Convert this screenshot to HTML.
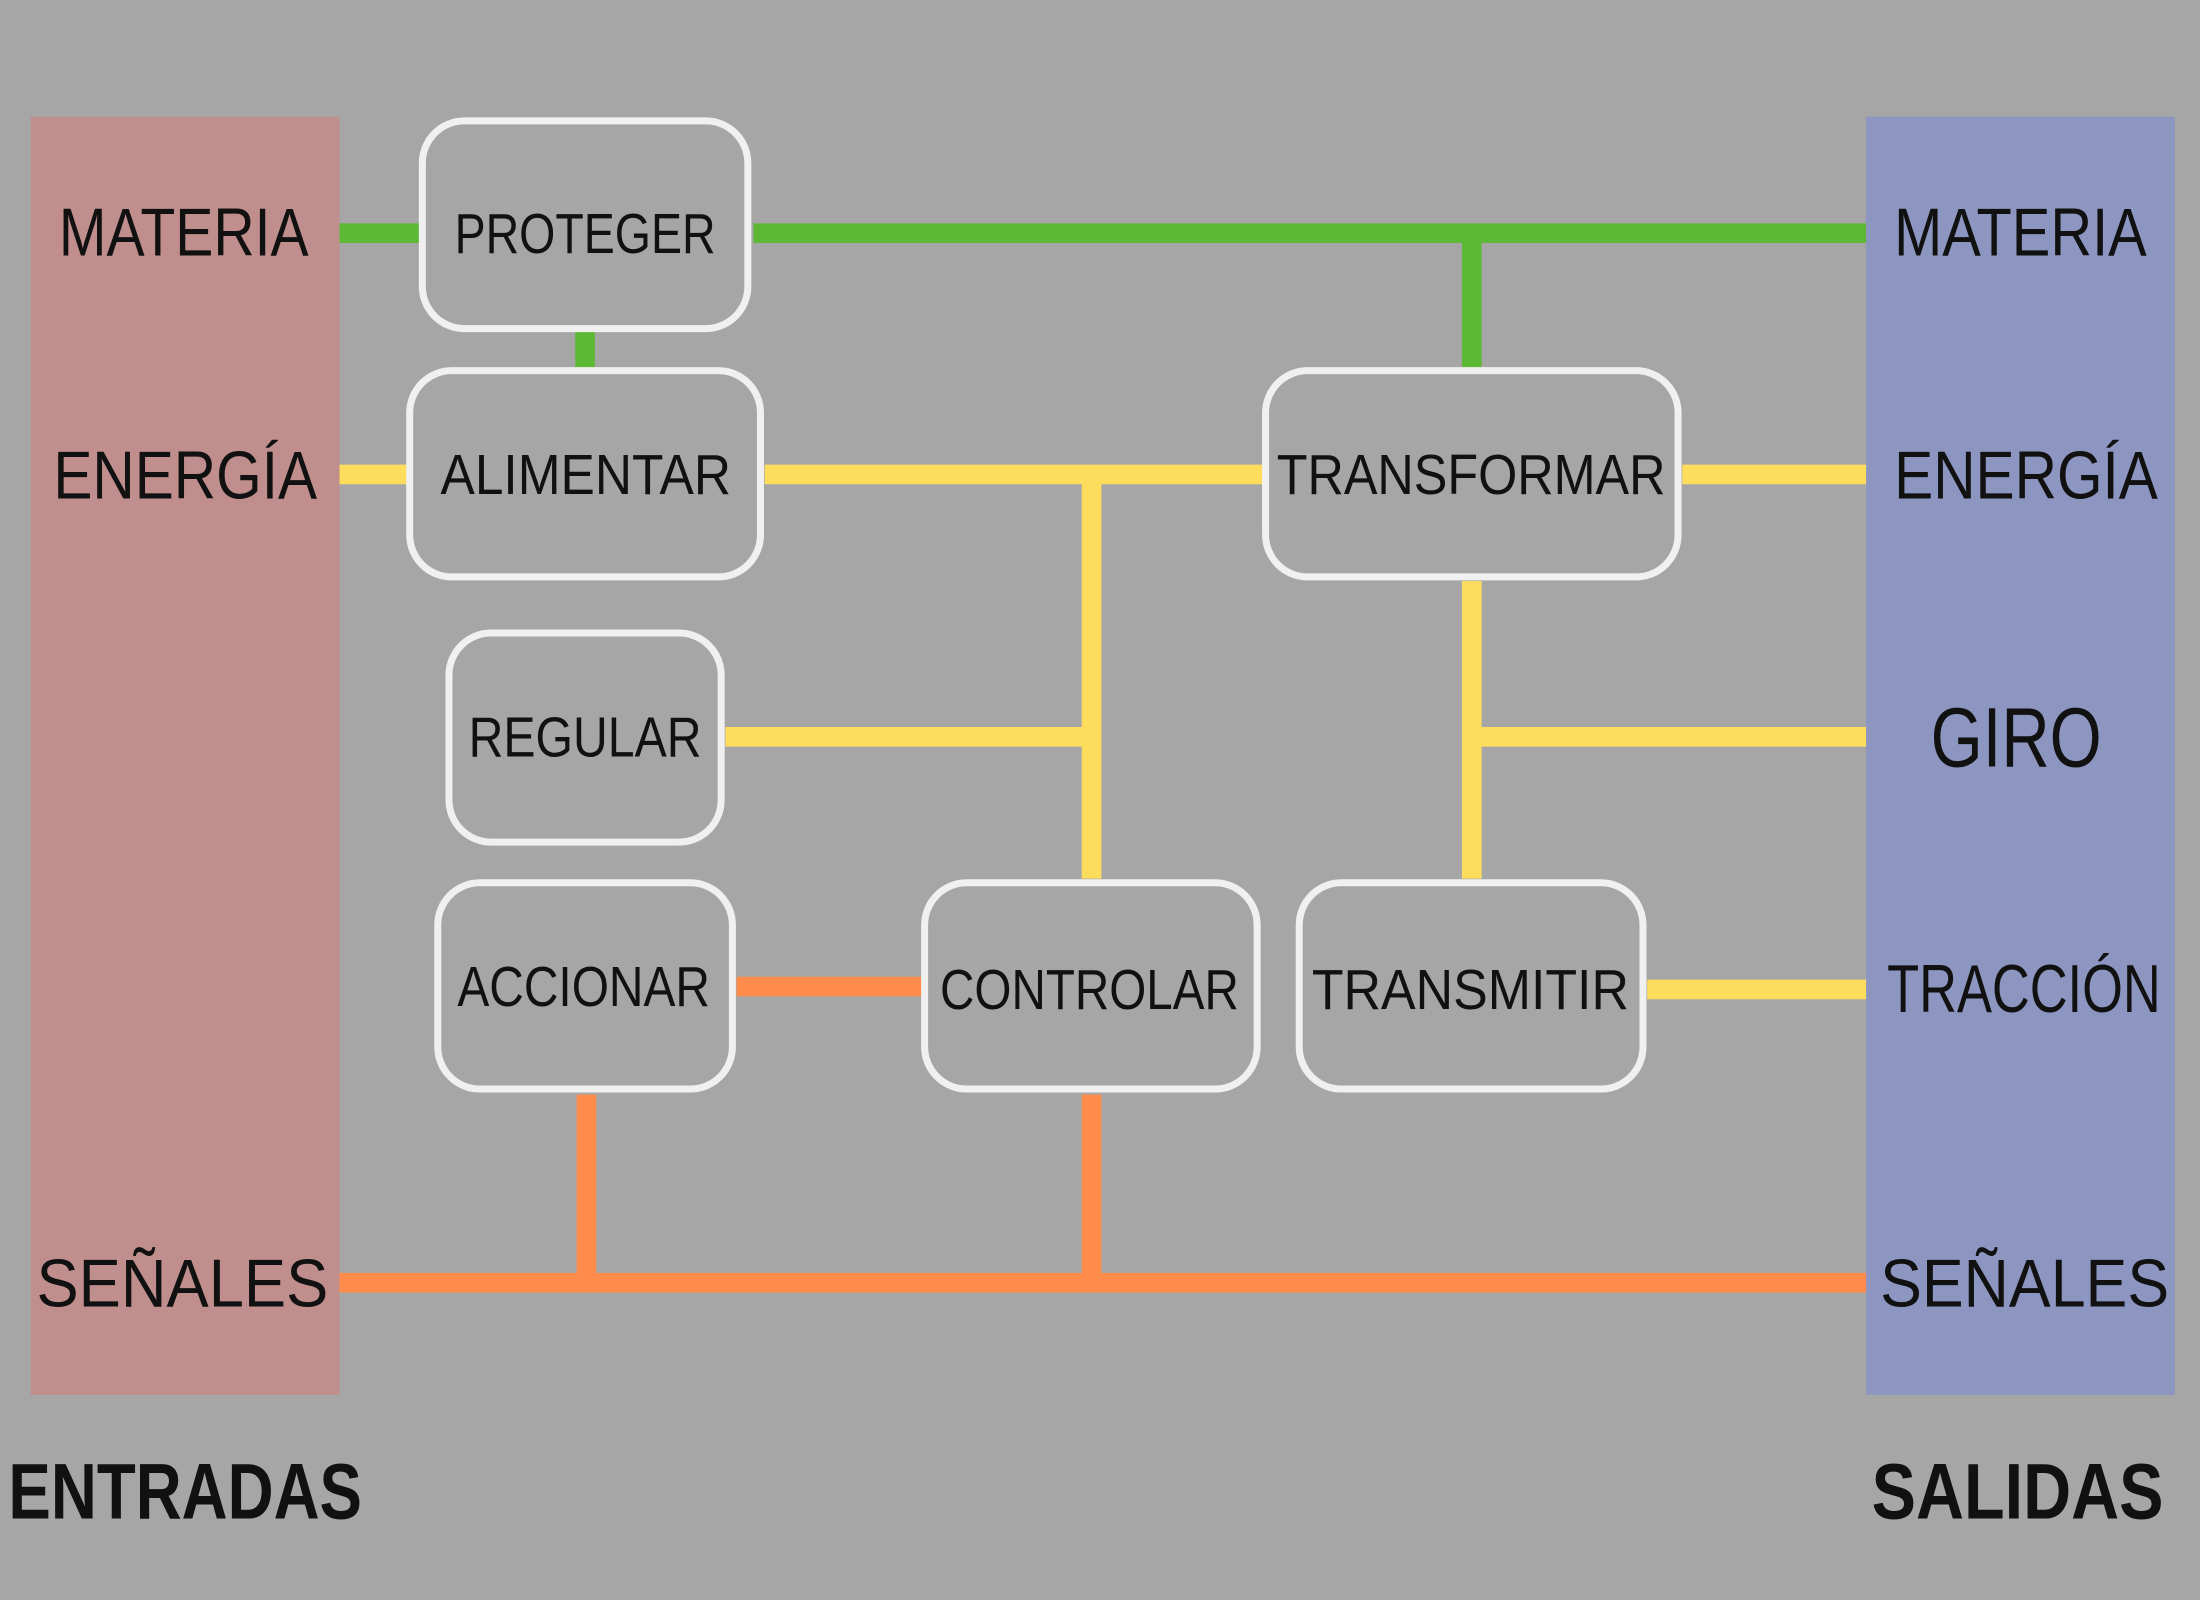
<!DOCTYPE html>
<html><head><meta charset="utf-8"><style>
html,body{margin:0;padding:0;background:#a6a6a6;}
svg{display:block;}
text{font-family:"Liberation Sans",sans-serif;fill:#111;}
</style></head><body>
<svg width="2200" height="1600" viewBox="0 0 1568 1140" xmlns="http://www.w3.org/2000/svg">
<rect x="0" y="0" width="1568" height="1140" fill="#a6a6a6"/>
<rect x="22" y="83" width="220" height="911" fill="#bf8e8d"/>
<rect x="1330" y="83" width="220" height="911" fill="#8c96c0"/>

<g stroke="#5db935" stroke-width="14">
<line x1="242" y1="166" x2="299" y2="166"/>
<line x1="537" y1="166" x2="1330" y2="166"/>
<line x1="1049" y1="166" x2="1049" y2="262"/>
<line x1="417" y1="236" x2="417" y2="262"/>
</g>
<g stroke="#ffdd5c" stroke-width="14">
<line x1="242" y1="338" x2="290" y2="338"/>
<line x1="545" y1="338" x2="900" y2="338"/>
<line x1="1199" y1="338" x2="1330" y2="338"/>
<line x1="778" y1="338" x2="778" y2="626"/>
<line x1="517" y1="525" x2="778" y2="525"/>
<line x1="1049" y1="414" x2="1049" y2="626"/>
<line x1="1049" y1="525" x2="1330" y2="525"/>
<line x1="1174" y1="705" x2="1330" y2="705"/>
</g>
<g stroke="#ff8c4a" stroke-width="14">
<line x1="525" y1="703" x2="657" y2="703"/>
<line x1="242" y1="914" x2="1330" y2="914"/>
<line x1="418" y1="780" x2="418" y2="914"/>
<line x1="778" y1="780" x2="778" y2="914"/>
</g>

<g fill="none" stroke="#f0f0f0" stroke-width="5">
<rect x="301" y="86" width="232" height="148" rx="30"/>
<rect x="292" y="264" width="250" height="147" rx="30"/>
<rect x="320" y="451" width="194" height="149" rx="30"/>
<rect x="312" y="629" width="210" height="147" rx="30"/>
<rect x="659" y="629" width="237" height="147" rx="30"/>
<rect x="902" y="264" width="294" height="147" rx="30"/>
<rect x="926" y="629" width="245" height="147" rx="30"/>
</g>

<g font-size="40">
<text x="324" y="180" textLength="186" lengthAdjust="spacingAndGlyphs">PROTEGER</text>
<text x="314" y="352" textLength="207" lengthAdjust="spacingAndGlyphs">ALIMENTAR</text>
<text x="334" y="539" textLength="166" lengthAdjust="spacingAndGlyphs">REGULAR</text>
<text x="326" y="717" textLength="180" lengthAdjust="spacingAndGlyphs">ACCIONAR</text>
<text x="670" y="719" textLength="213" lengthAdjust="spacingAndGlyphs">CONTROLAR</text>
<text x="910" y="352" textLength="277" lengthAdjust="spacingAndGlyphs">TRANSFORMAR</text>
<text x="935" y="719" textLength="226" lengthAdjust="spacingAndGlyphs">TRANSMITIR</text>
</g>

<g font-size="48">
<text x="42" y="182" textLength="178" lengthAdjust="spacingAndGlyphs">MATERIA</text>
<text x="38" y="355" textLength="188" lengthAdjust="spacingAndGlyphs">ENERGÍA</text>
<text x="26" y="931" textLength="208" lengthAdjust="spacingAndGlyphs">SEÑALES</text>
<text x="1350" y="182" textLength="180" lengthAdjust="spacingAndGlyphs">MATERIA</text>
<text x="1350" y="355" textLength="188" lengthAdjust="spacingAndGlyphs">ENERGÍA</text>
<text x="1345" y="721" textLength="195" lengthAdjust="spacingAndGlyphs">TRACCIÓN</text>
<text x="1340" y="931" textLength="206" lengthAdjust="spacingAndGlyphs">SEÑALES</text>
</g>
<text x="1376" y="546" font-size="60" textLength="122" lengthAdjust="spacingAndGlyphs">GIRO</text>

<text x="6" y="1082" font-size="56" font-weight="bold" textLength="252" lengthAdjust="spacingAndGlyphs">ENTRADAS</text>
<text x="1334" y="1082" font-size="56" font-weight="bold" textLength="208" lengthAdjust="spacingAndGlyphs">SALIDAS</text>
</svg>
</body></html>
